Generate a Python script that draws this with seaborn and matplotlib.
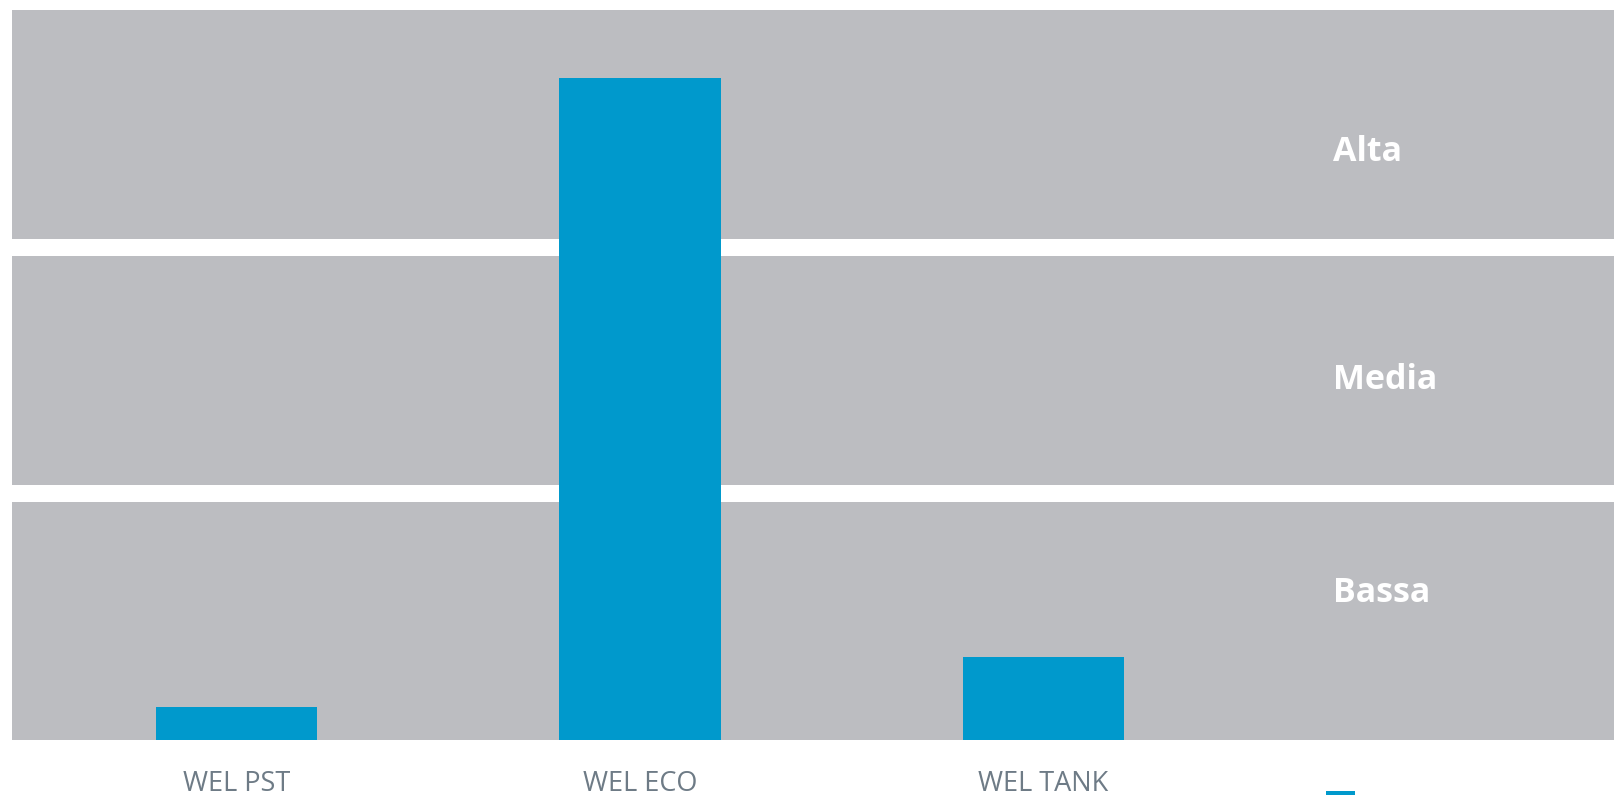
import matplotlib
matplotlib.use("Agg")
import matplotlib.pyplot as plt
from matplotlib.patches import Patch
import seaborn as sns
import pandas as pd

# ---- data ----
products = ["WEL PST", "WEL ECO", "WEL TANK"]
values = [4.5, 90.5, 11.3]          # bar heights (0-100 scale)
band_labels = ["Bassa", "Media", "Alta"]
band_levels = [0.5, 1.5, 2.5]

BLUE = "#0099cc"
GRAY = "#bcbdc1"
TICK = "#6e7b86"

sns.set_theme(style="white")
plt.rcParams["font.family"] = ["Open Sans", "DejaVu Sans"]

fig = plt.figure(figsize=(16.14, 7.95), dpi=100)
pos = [12 / 1614, 55.5 / 795, 1602 / 1614, 730.5 / 795]

# background bands (lowest band runs down to the axis floor)
band_h = 0.931
lows = [0 if l == min(band_levels) else l - band_h / 2 for l in band_levels]
highs = [l + band_h / 2 for l in band_levels]
axb = fig.add_axes(pos)
axb.barh(lows, [1] * len(band_levels),
         height=[h - lo for lo, h in zip(lows, highs)], left=0,
         align="edge", color=GRAY, edgecolor="none")
axb.set_xlim(0, 1)
axb.set_ylim(0, 2.97)
axb.axis("off")
label_offsets = [0.059, -0.075, -0.148]
for lvl, lab, off in zip(band_levels, band_labels, label_offsets):
    axb.text(0.8246, lvl + off, lab, color="white", fontsize=24.5,
             fontweight="bold", va="baseline", ha="left")

# bars
ax = fig.add_axes(pos)
ax.patch.set_alpha(0)
df = pd.DataFrame({"product": products, "value": values})
sns.barplot(data=df, x="product", y="value", color=BLUE, width=0.4,
            saturation=1, ax=ax, edgecolor="none")
ax.set_xlim(-0.556, 3.414)
ax.set_ylim(0, 100)
ax.set_xlabel("")
ax.set_ylabel("")
ax.set_yticks([])
for s in ax.spines.values():
    s.set_visible(False)
ax.tick_params(axis="x", length=0, pad=22, labelsize=19.5, labelcolor=TICK)

# legend swatch, cut off at the bottom edge of the figure
fig.legend(handles=[Patch(facecolor=BLUE, edgecolor="none", label=" ")],
           loc="upper left", bbox_to_anchor=(1326 / 1614, 4 / 795),
           frameon=False, fontsize=19, handlelength=1.1, handleheight=1.1,
           borderpad=0, borderaxespad=0, handletextpad=0.6)

fig.savefig("out.png", dpi=100)
